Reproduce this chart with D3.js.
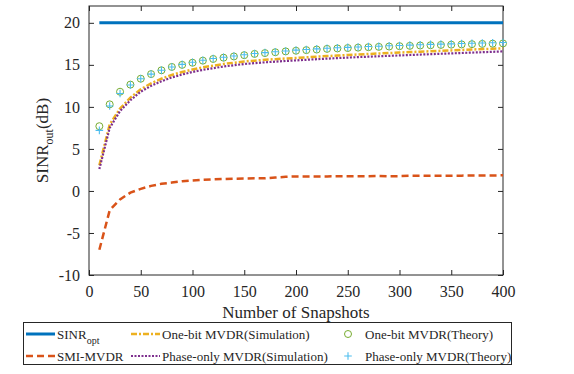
<!DOCTYPE html>
<html>
<head>
<meta charset="utf-8">
<script src="https://cdn.jsdelivr.net/npm/d3@7"></script>
<style>
  body { margin: 0; background: #fff; }
  svg text { font-family: "Liberation Serif", "Times New Roman", serif; fill: #262626; }
</style>
</head>
<body>
<svg id="chart" width="574" height="374"></svg>
<script>
// snapshot counts
var snapshots = [10,20,30,40,50,60,70,80,90,100,110,120,130,140,150,160,170,180,190,200,
  210,220,230,240,250,260,270,280,290,300,310,320,330,340,350,360,370,380,390,400];
var sinrOpt = 20;
var smiMvdr = [-7.0,-2.3,-1.0,-0.2,0.25,0.6,0.85,1.0,1.15,1.25,1.32,1.38,1.42,1.45,1.47,1.52,1.5,1.6,1.68,1.72,
  1.72,1.73,1.73,1.74,1.75,1.75,1.76,1.78,1.74,1.76,1.8,1.81,1.8,1.82,1.82,1.82,1.83,1.83,1.84,1.86];
var oneBitSim = [3.05,7.9,9.8,11.1,12.1,12.8,13.35,13.8,14.15,14.45,14.7,14.9,15.1,15.25,15.4,15.5,15.6,15.68,15.75,15.82,
  15.9,15.97,16.04,16.1,16.17,16.23,16.29,16.35,16.4,16.46,16.52,16.57,16.62,16.67,16.72,16.77,16.82,16.87,16.92,16.97];
var phaseSim = [2.6,7.5,9.5,10.8,11.8,12.5,13.05,13.5,13.85,14.15,14.4,14.6,14.8,14.95,15.1,15.2,15.3,15.38,15.46,15.53,
  15.6,15.67,15.74,15.8,15.86,15.92,15.97,16.02,16.07,16.12,16.17,16.22,16.27,16.32,16.36,16.41,16.46,16.5,16.55,16.6];
var oneBitTheory = [7.7,10.3,11.8,12.65,13.35,13.9,14.35,14.75,15.0,15.25,15.5,15.7,15.85,16.0,16.15,16.3,16.4,16.5,16.6,16.68,
  16.75,16.82,16.9,16.95,17.0,17.05,17.1,17.14,17.18,17.22,17.26,17.3,17.33,17.37,17.4,17.43,17.46,17.49,17.52,17.55];
var phaseTheory = [7.2,10.1,11.6,12.6,13.35,13.9,14.35,14.75,15.05,15.3,15.55,15.75,15.9,16.05,16.2,16.35,16.45,16.55,16.65,16.75,
  16.82,16.9,16.97,17.03,17.08,17.13,17.18,17.22,17.27,17.31,17.35,17.39,17.43,17.47,17.5,17.54,17.57,17.6,17.63,17.66];
var xTicks = [0,50,100,150,200,250,300,350,400];
var yTicks = [-10,-5,0,5,10,15,20];

var C = { blue: "#0072BD", red: "#D95319", yellow: "#EDB120", purple: "#7E2F8E", green: "#77AC30", cyan: "#4DBEEE" };
var serif = "'Liberation Serif', 'Times New Roman', serif";

var svg = d3.select("#chart");
var m = { left: 89, right: 503, top: 6, bottom: 275 };
var x = d3.scaleLinear().domain([0, 400]).range([m.left, m.right]);
var y = d3.scaleLinear().domain([-10, 22]).range([m.bottom, m.top]);

var axisColor = "#262626";
function styleAxis(g) {
  g.attr("font-family", serif).attr("font-size", 16);
  g.select(".domain").remove();
  g.selectAll("line").attr("stroke", axisColor);
  g.selectAll("text").style("font-family", serif).style("font-size", "16px").attr("fill", axisColor);
}
var plainNum = function(d) { return String(d); };   // hyphen minus like the original

// box
svg.append("rect").attr("x", m.left).attr("y", m.top).attr("width", m.right - m.left).attr("height", m.bottom - m.top)
  .attr("fill", "none").attr("stroke", axisColor).attr("stroke-width", 1);

var tl = 5;
svg.append("g").attr("transform", "translate(0," + m.bottom + ")")
  .call(d3.axisBottom(x).tickValues(xTicks).tickSize(-tl).tickPadding(tl + 6).tickFormat(plainNum)).call(styleAxis);
svg.append("g").attr("transform", "translate(0," + m.top + ")")
  .call(d3.axisTop(x).tickValues(xTicks).tickSize(-tl).tickFormat("")).call(styleAxis);
svg.append("g").attr("transform", "translate(" + m.left + ",0)")
  .call(d3.axisLeft(y).tickValues(yTicks).tickSize(-tl).tickPadding(tl + 4).tickFormat(plainNum)).call(styleAxis);
svg.append("g").attr("transform", "translate(" + m.right + ",0)")
  .call(d3.axisRight(y).tickValues(yTicks).tickSize(-tl).tickFormat("")).call(styleAxis);

// labels
svg.append("text").attr("x", (m.left + m.right) / 2).attr("y", 318).attr("text-anchor", "middle")
  .style("font-family", serif).style("font-size", "17px").text("Number of Snapshots");
var yl = svg.append("text").attr("transform", "translate(48," + ((m.top + m.bottom) / 2) + ") rotate(-90)")
  .attr("text-anchor", "middle").style("font-family", serif).style("font-size", "17px");
yl.append("tspan").text("SINR");
yl.append("tspan").attr("dy", 5).style("font-size", "12px").text("out");
yl.append("tspan").attr("dy", -5).text("(dB)");

var plot = svg.append("g");
function lineOf(vals) {
  return d3.line().x(function(d, i) { return x(snapshots[i]); }).y(function(d) { return y(d); })(vals);
}

plot.append("path").attr("d", lineOf(snapshots.map(function() { return sinrOpt; })))
  .attr("fill", "none").attr("stroke", C.blue).attr("stroke-width", 3);
plot.append("path").attr("d", lineOf(smiMvdr))
  .attr("fill", "none").attr("stroke", C.red).attr("stroke-width", 2.5).attr("stroke-dasharray", "7,4");
plot.append("path").attr("d", lineOf(oneBitSim))
  .attr("fill", "none").attr("stroke", C.yellow).attr("stroke-width", 2.5).attr("stroke-dasharray", "6,2,2,2");
plot.append("path").attr("d", lineOf(phaseSim))
  .attr("fill", "none").attr("stroke", C.purple).attr("stroke-width", 2.2).attr("stroke-dasharray", "2,1.5");

plot.selectAll("circle.th").data(oneBitTheory).enter().append("circle").attr("class", "th")
  .attr("cx", function(d, i) { return x(snapshots[i]); }).attr("cy", function(d) { return y(d); })
  .attr("r", 3.5).attr("fill", "none").attr("stroke", C.green).attr("stroke-width", 1);
var plusSize = 3.8;
plot.selectAll("path.pl").data(phaseTheory).enter().append("path").attr("class", "pl")
  .attr("d", function(d, i) {
    var cx = x(snapshots[i]), cy = y(d);
    return "M" + (cx - plusSize) + "," + cy + "H" + (cx + plusSize) + "M" + cx + "," + (cy - plusSize) + "V" + (cy + plusSize);
  })
  .attr("stroke", C.cyan).attr("stroke-width", 1.1).attr("fill", "none");

// legend
var lg = svg.append("g");
lg.append("rect").attr("x", 23.5).attr("y", 322.5).attr("width", 488).attr("height", 42)
  .attr("fill", "#fff").attr("stroke", axisColor).attr("stroke-width", 1);
var row1 = 334, row2 = 356;
function legLine(x0, yy, color, w, dash) {
  lg.append("line").attr("x1", x0).attr("x2", x0 + 29).attr("y1", yy).attr("y2", yy)
    .attr("stroke", color).attr("stroke-width", w).attr("stroke-dasharray", dash || null);
}
function legText(x0, yy, t) {
  return lg.append("text").attr("x", x0).attr("y", yy + 4.5)
    .style("font-family", serif).style("font-size", "13px").text(t);
}
legLine(26, row1, C.blue, 3);
var t1 = legText(57, row1, "SINR");
t1.append("tspan").attr("dy", 5).style("font-size", "10px").text("opt");
legLine(26, row2, C.red, 2.5, "7,4");
legText(57, row2, "SMI-MVDR");
legLine(131, row1, C.yellow, 2.5, "6,2,2,2");
legText(162, row1, "One-bit MVDR(Simulation)");
legLine(131, row2, C.purple, 2.2, "2,1.5");
legText(162, row2, "Phase-only MVDR(Simulation)");
lg.append("circle").attr("cx", 348).attr("cy", row1).attr("r", 3.5).attr("fill", "none").attr("stroke", C.green);
lg.append("path").attr("d", "M" + (348 - plusSize) + "," + row2 + "H" + (348 + plusSize) + "M348," + (row2 - plusSize) + "V" + (row2 + plusSize))
  .attr("stroke", C.cyan).attr("stroke-width", 1.1);
legText(365, row1, "One-bit MVDR(Theory)");
legText(365, row2, "Phase-only MVDR(Theory)");
</script>
</body>
</html>
